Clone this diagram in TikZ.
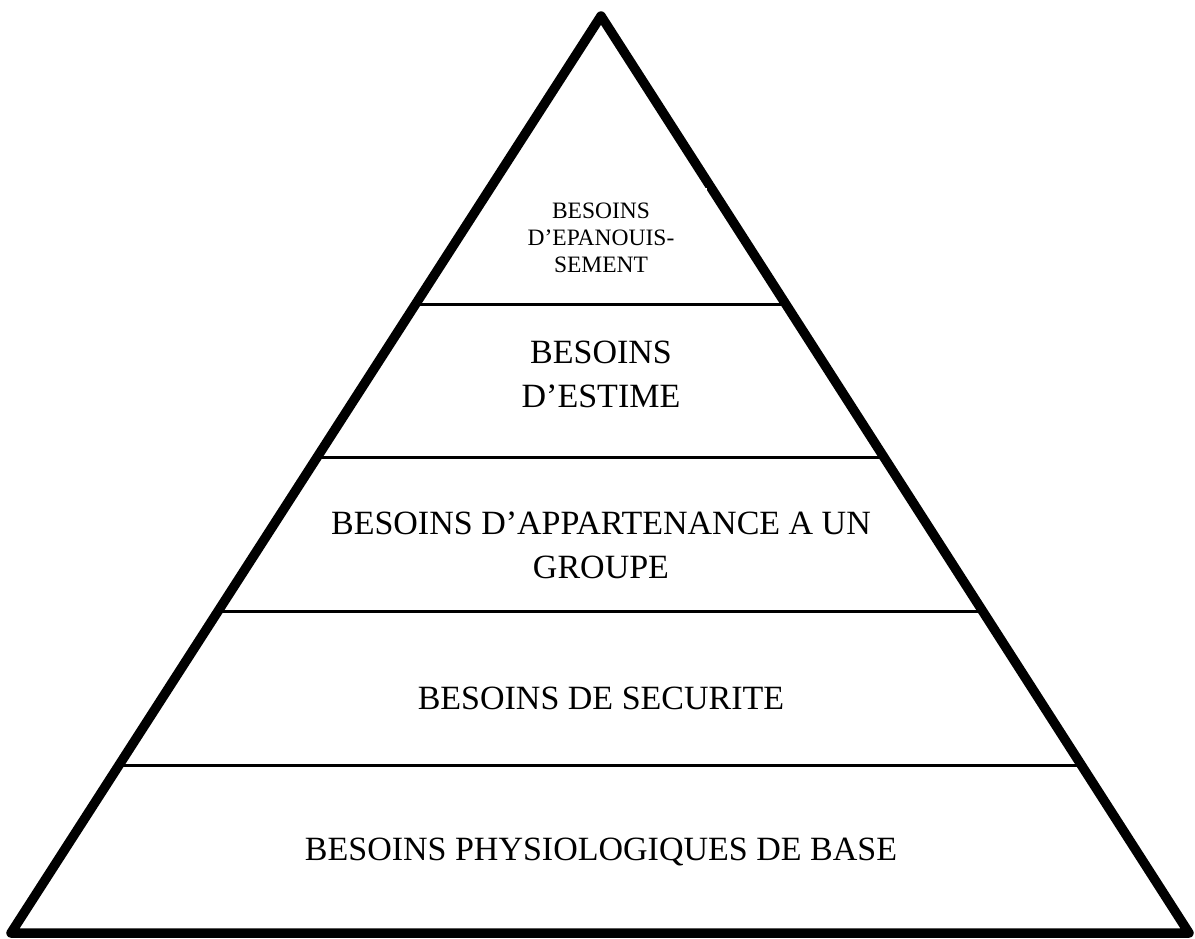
\documentclass[tikz,border=0pt]{standalone}
\usepackage{fontspec}
\setmainfont{Liberation Serif}
\usetikzlibrary{calc}
\begin{document}
\begin{tikzpicture}[x=1pt,y=-1pt,
  tier/.style={line width=3pt},
  big/.style={align=center,inner sep=0pt,font=\fontsize{34}{44}\selectfont},
  small/.style={align=center,inner sep=0pt,font=\fontsize{23.5}{27}\selectfont}]
\useasboundingbox (0,0) rectangle (1195,938);
\coordinate (A) at (601,16);
\coordinate (L) at (11,933);
\coordinate (R) at (1189,933);
\draw[line width=9.5pt,line join=round] (A) -- (L) -- (R) -- cycle;
\fill[white] (496,188) rectangle (707,200);
\foreach \t/\n in {0.3141/a,0.4820/b,0.6489/c,0.8168/d}{
  \coordinate (l\n) at ($(A)!\t!(L)$);
  \coordinate (r\n) at ($(A)!\t!(R)$);
  \draw[tier] (l\n) -- (r\n);
}
\node[small] (t1) at (601,238) {BESOINS\\D’EPANOUIS-\\SEMENT};
\node[big] (t2) at (601,374) {BESOINS\\D’ESTIME};
\node[big] (t3) at (601,545) {BESOINS D’APPARTENANCE A UN\\GROUPE};
\node[big] (t4) at (601,698) {BESOINS DE SECURITE};
\node[big] (t5) at (601,852) {BESOINS PHYSIOLOGIQUES DE BASE};
\end{tikzpicture}
\end{document}
